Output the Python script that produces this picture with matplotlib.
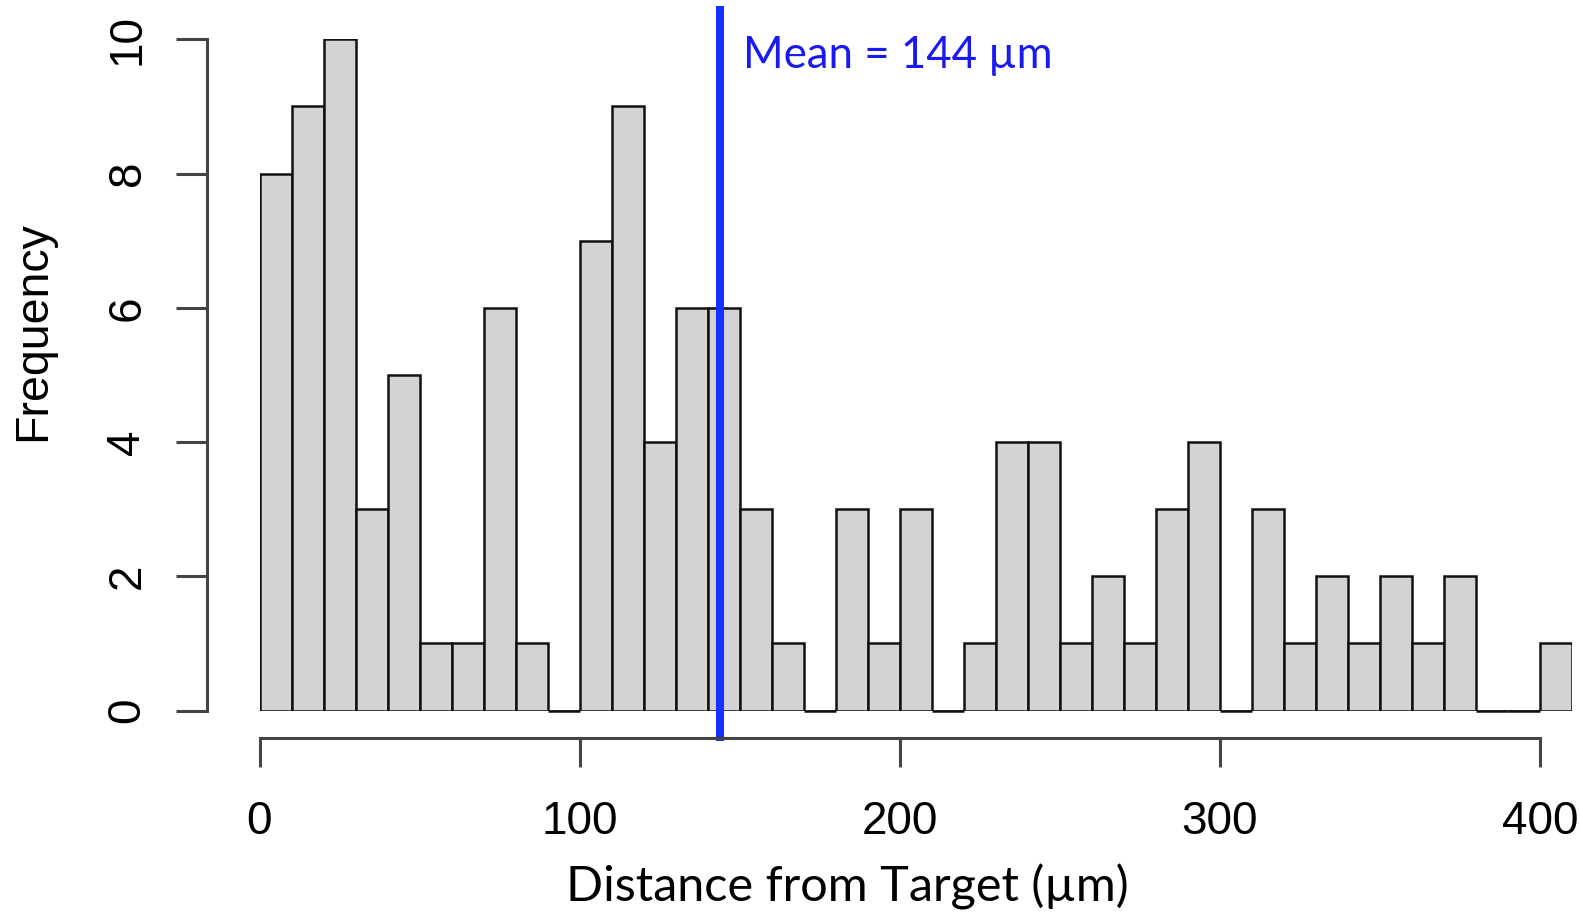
import matplotlib
matplotlib.use("Agg")
from matplotlib import pyplot as plt

# histogram of distances, bins of 10 um
bin_edges = list(range(0, 420, 10))
counts = [8, 9, 10, 3, 5, 1, 1, 6, 1, 0,
          7, 9, 4, 6, 6, 3, 1, 0, 3, 1,
          3, 0, 1, 4, 4, 1, 2, 1, 3, 4,
          0, 3, 1, 2, 1, 2, 1, 2, 0, 0,
          1]
mean_value = 144
x_ticks = [0, 100, 200, 300, 400]
y_ticks = [0, 2, 4, 6, 8, 10]

W, H = 1580, 914
fig = plt.figure(figsize=(W / 100, H / 100), dpi=100)
ax = fig.add_axes([259.5 / W, 1 - 710.5 / H, 1312.5 / W, 671.2 / H])

ax.bar(bin_edges[:-1], counts, width=10, align="edge",
       color="#d3d3d3", edgecolor="#111111", linewidth=1.8)
# R draws empty bins as a flat line on the baseline
empty_left = [bin_edges[i] for i, c in enumerate(counts) if c == 0]
empty_right = [bin_edges[i + 1] for i, c in enumerate(counts) if c == 0]
ax.hlines([0] * len(empty_left), empty_left, empty_right, color="#111111",
          linewidth=1.8, clip_on=False, zorder=3)
ax.set_xlim(0, 410)
ax.set_ylim(0, 10)

# R style axes
for s in ["top", "right"]:
    ax.spines[s].set_visible(False)
ax.spines["left"].set_position(("outward", 37.6))
ax.spines["bottom"].set_position(("outward", 19.8))
ax.spines["left"].set_bounds(0, 10)
ax.spines["bottom"].set_bounds(0, 400)
for s in ["left", "bottom"]:
    ax.spines[s].set_color("#444444")
    ax.spines[s].set_linewidth(2.2)

tick_font = ["Liberation Sans", "DejaVu Sans"]
ax.set_xticks(x_ticks)
ax.set_yticks(y_ticks)
ax.tick_params(axis="x", length=21, width=2.2, color="#444444", pad=24)
ax.tick_params(axis="y", length=22, width=2.2, color="#444444", pad=19.6)
for lab in ax.get_xticklabels():
    lab.set_fontfamily(tick_font)
    lab.set_fontsize(33)
for lab in ax.get_yticklabels():
    lab.set_fontfamily(tick_font)
    lab.set_fontsize(33)
    lab.set_rotation(90)
    lab.set_va("center")

ax.set_ylabel("Frequency", fontsize=33.5, family=["Liberation Sans", "DejaVu Sans"],
              va="baseline")
ax.yaxis.set_label_coords(-0.1635, 0.5654)
ax.set_xlabel("Distance from Target (\u00b5m)", fontsize=35, family=["Lato", "DejaVu Sans"],
              va="baseline")
ax.xaxis.set_label_coords(0.4476, -0.2853)

# mean line
ax.axvline(mean_value, ymin=-0.0389, ymax=1.0437, color="#1432ff", linewidth=5.8, clip_on=False)
ax.text(151.1, 9.57, "Mean = %d \u00b5m" % mean_value, color="#1a1af0",
        fontsize=31.5, family=["Lato", "DejaVu Sans"], va="baseline", ha="left")

fig.savefig("out.png", dpi=100)
